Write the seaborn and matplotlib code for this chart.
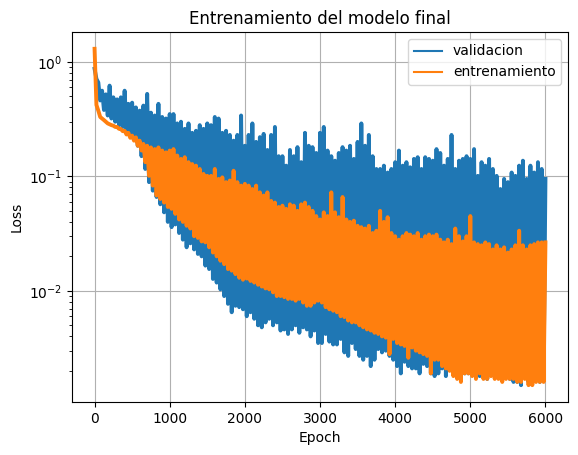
import matplotlib
matplotlib.use("Agg")
import matplotlib.pyplot as plt
import numpy as np
import pandas as pd
import seaborn as sns

# Loss values: highs at every 50 epochs, lows in between
peak_epochs = list(range(0, 6001, 50))
trough_epochs = list(range(25, 6000, 50))

val_peaks = [
    0.87, 0.66, 0.56, 0.52, 0.62, 0.49, 0.47, 0.49, 0.56, 0.43,
    0.44, 0.40, 0.375, 0.415, 0.525, 0.36, 0.34, 0.43, 0.33, 0.32,
    0.35, 0.35, 0.29, 0.30, 0.26, 0.29, 0.24, 0.25, 0.28, 0.26,
    0.29, 0.28, 0.33, 0.32, 0.24, 0.25, 0.23, 0.205, 0.23, 0.34,
    0.185, 0.23, 0.29, 0.20, 0.22, 0.235, 0.17, 0.23, 0.27, 0.15,
    0.15, 0.124, 0.17, 0.15, 0.18, 0.133, 0.24, 0.185, 0.18, 0.16,
    0.24, 0.27, 0.168, 0.15, 0.137, 0.16, 0.18, 0.168, 0.185, 0.142,
    0.20, 0.29, 0.185, 0.23, 0.15, 0.116, 0.116, 0.124, 0.108, 0.116,
    0.133, 0.168, 0.124, 0.133, 0.12, 0.142, 0.147, 0.116, 0.147, 0.142,
    0.137, 0.173, 0.16, 0.124, 0.142, 0.23, 0.116, 0.137, 0.142, 0.15,
    0.142, 0.173, 0.101, 0.133, 0.124, 0.142, 0.116, 0.101, 0.0775, 0.095,
    0.089, 0.108, 0.101, 0.124, 0.137, 0.095, 0.124, 0.108, 0.133, 0.116,
    0.095,
]
val_troughs = [
    0.71, 0.46, 0.38, 0.34, 0.32, 0.30, 0.28, 0.27, 0.255, 0.24,
    0.22, 0.185, 0.15, 0.116, 0.089, 0.075, 0.066, 0.057, 0.0485, 0.040,
    0.036, 0.038, 0.032, 0.028, 0.024, 0.026, 0.023, 0.021, 0.020, 0.0166,
    0.0155, 0.0127, 0.0118, 0.0103, 0.0090, 0.0077, 0.0065, 0.0074, 0.0072, 0.0069,
    0.0060, 0.0065, 0.0057, 0.0050, 0.0048, 0.0053, 0.0057, 0.0050, 0.0053, 0.0045,
    0.0046, 0.0042, 0.0046, 0.0050, 0.0043, 0.0048, 0.0046, 0.0040, 0.0045, 0.0035,
    0.0035, 0.0042, 0.0036, 0.0034, 0.0034, 0.0038, 0.0029, 0.0027, 0.0035, 0.0031,
    0.0027, 0.0025, 0.0027, 0.0022, 0.0025, 0.0031, 0.0029, 0.0030, 0.0027, 0.0025,
    0.0022, 0.0019, 0.0024, 0.0022, 0.0021, 0.0021, 0.0019, 0.0023, 0.0022, 0.0019,
    0.0018, 0.0019, 0.0021, 0.0018, 0.0021, 0.0019, 0.0018, 0.0017, 0.0019, 0.0019,
    0.0021, 0.0019, 0.0018, 0.0019, 0.0017, 0.0019, 0.0018, 0.0019, 0.0017, 0.0018,
    0.0017, 0.0016, 0.0016, 0.0015, 0.0018, 0.0016, 0.0016, 0.0017, 0.0016, 0.0018,
]
train_peaks = [
    1.30, 0.375, 0.32, 0.30, 0.285, 0.277, 0.27, 0.259, 0.25, 0.24,
    0.227, 0.219, 0.205, 0.192, 0.185, 0.179, 0.173, 0.179, 0.168, 0.162,
    0.168, 0.173, 0.152, 0.142, 0.147, 0.133, 0.128, 0.124, 0.116, 0.105,
    0.101, 0.101, 0.116, 0.095, 0.098, 0.089, 0.092, 0.112, 0.089, 0.083,
    0.086, 0.083, 0.0775, 0.083, 0.0725, 0.068, 0.0725, 0.061, 0.059, 0.054,
    0.0555, 0.052, 0.057, 0.0555, 0.050, 0.057, 0.059, 0.054, 0.050, 0.045,
    0.042, 0.0485, 0.045, 0.0725, 0.0485, 0.044, 0.066, 0.042, 0.040, 0.041,
    0.037, 0.036, 0.035, 0.037, 0.032, 0.0335, 0.050, 0.040, 0.044, 0.032,
    0.030, 0.028, 0.030, 0.032, 0.031, 0.030, 0.032, 0.028, 0.030, 0.031,
    0.030, 0.031, 0.028, 0.0265, 0.028, 0.0256, 0.035, 0.030, 0.027, 0.030,
    0.045, 0.0265, 0.0256, 0.025, 0.0265, 0.0256, 0.023, 0.025, 0.023, 0.024,
    0.0216, 0.023, 0.025, 0.0335, 0.025, 0.023, 0.025, 0.0256, 0.0265, 0.0265,
    0.0265,
]
train_troughs = [
    0.42, 0.33, 0.31, 0.29, 0.28, 0.27, 0.26, 0.248, 0.232, 0.217,
    0.205, 0.185, 0.168, 0.133, 0.101, 0.083, 0.068, 0.0634, 0.059, 0.054,
    0.052, 0.047, 0.042, 0.040, 0.037, 0.035, 0.030, 0.029, 0.027, 0.0265,
    0.024, 0.0216, 0.020, 0.0183, 0.0171, 0.0155, 0.0150, 0.0140, 0.0130, 0.0125,
    0.0128, 0.0122, 0.0118, 0.0113, 0.0109, 0.0105, 0.0103, 0.0097, 0.0090, 0.0090,
    0.0088, 0.0085, 0.0085, 0.0082, 0.0085, 0.0079, 0.0074, 0.0074, 0.0079, 0.0082,
    0.0079, 0.0072, 0.0069, 0.0067, 0.0065, 0.0060, 0.0059, 0.0055, 0.0053, 0.0053,
    0.0050, 0.0048, 0.0046, 0.0045, 0.0043, 0.0042, 0.0040, 0.0039, 0.0028, 0.0038,
    0.0035, 0.0034, 0.0033, 0.0026, 0.0032, 0.0030, 0.0029, 0.0028, 0.0027, 0.0019,
    0.0025, 0.0025, 0.0022, 0.0021, 0.0020, 0.0018, 0.0017, 0.0016, 0.0019, 0.0019,
    0.0018, 0.0017, 0.0019, 0.0017, 0.0017, 0.0018, 0.0017, 0.0017, 0.0016, 0.0017,
    0.0017, 0.0017, 0.0016, 0.0016, 0.0017, 0.0015, 0.0015, 0.0016, 0.0016, 0.0016,
]

series_names = ["validacion", "entrenamiento"]
colors = ["#1f77b4", "#ff7f0e"]


def build_series(name, peaks, troughs):
    df = pd.DataFrame({
        "Epoch": peak_epochs + trough_epochs,
        "Loss": peaks + troughs,
    })
    df["serie"] = name
    return df.sort_values("Epoch")


data = pd.concat([
    build_series(series_names[0], val_peaks, val_troughs),
    build_series(series_names[1], train_peaks, train_troughs),
])

fig = plt.figure(figsize=(5.78, 4.55), dpi=100)
ax = fig.add_axes([0.1246, 0.1165, 0.8581, 0.8132])
# thicker strokes so the sparse zigzag fills like the dense original curves
sns.lineplot(
    data=data, x="Epoch", y="Loss", hue="serie", hue_order=series_names,
    palette=colors, estimator=None, sort=False, linewidth=2.8, ax=ax,
)
ax.set_yscale("log")
ax.grid(True)
ax.set_title("Entrenamiento del modelo final")
ax.set_xlabel("Epoch")
ax.set_ylabel("Loss")
handles, labels = ax.get_legend_handles_labels()
leg = ax.legend(handles, labels, loc="upper right")
for line in leg.get_lines():
    line.set_linewidth(1.5)

fig.savefig("out.png")
